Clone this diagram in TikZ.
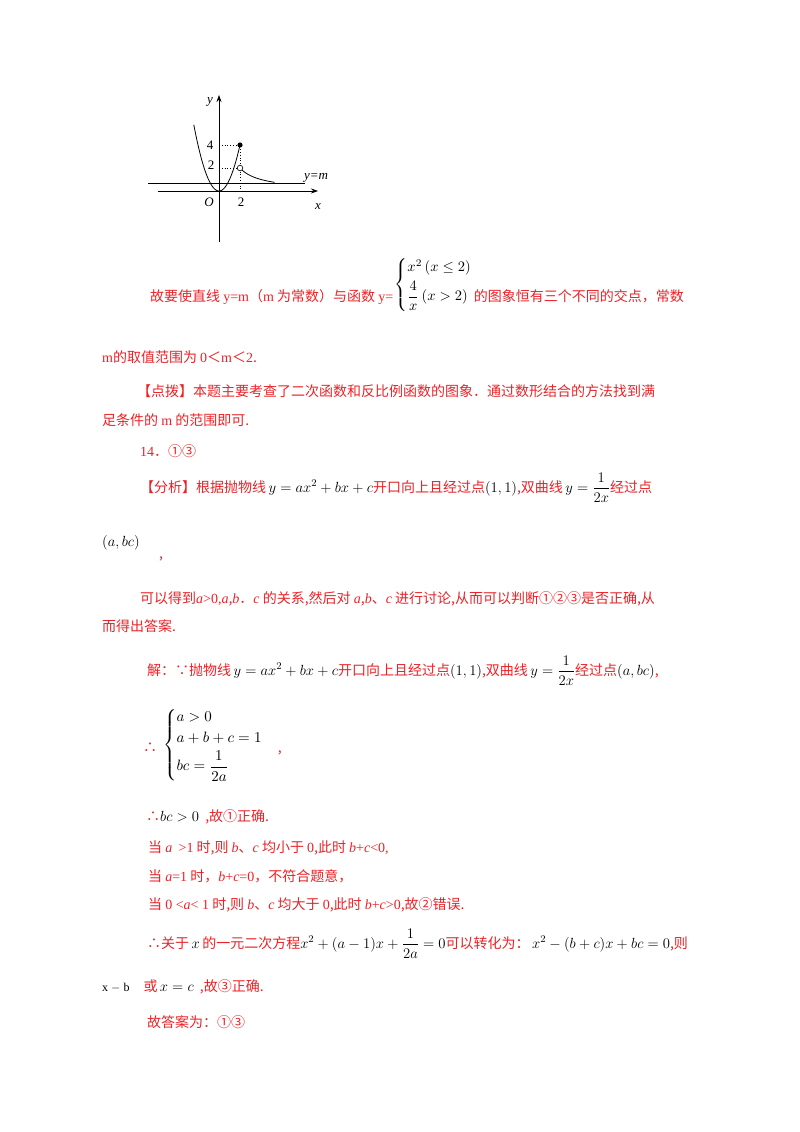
\RequirePackage{fix-cm}
\documentclass[tikz,border=0pt]{standalone}
\usepackage{amsmath}
\usepackage{graphicx}
\usepackage{fontspec}
\setmainfont{Liberation Serif}
\newfontfamily\cjk{Noto Sans CJK SC}
\newfontfamily\ser{Liberation Serif}
\newcommand{\ls}[1]{{\ser #1}}
\newcommand{\li}[1]{{\ser\itshape #1}}
\usetikzlibrary{arrows.meta}
\definecolor{rd}{RGB}{235,35,40}
\newcommand{\mth}[1]{{\color{black}\scalebox{1.05}{$#1$}}}
\begin{document}
\begin{tikzpicture}[x=1pt,y=-1pt,
  t/.style={anchor=base west,inner sep=0,text=rd,font=\cjk\fontsize{14}{17}\selectfont},
  lab/.style={inner sep=0,font=\fontsize{13}{15}\selectfont\itshape},
  num/.style={inner sep=0,font=\fontsize{13}{15}\selectfont},
  ax/.style={line width=0.7pt,-{Stealth[length=7pt,width=5pt]}},
  dot/.style={dotted,line width=0.8pt}]
\useasboundingbox[fill=white] (0,0) rectangle (800,1132);
% graph
\draw[ax] (219,242) -- (219,95);
\draw[ax] (158,191) -- (318,191);
\draw[line width=0.7pt] (148,183) -- (305,183);
\draw[dot] (219,145) -- (240,145) -- (240,191);
\draw[dot] (219,168) -- (240,168);
\draw[line width=0.8pt,domain=-2.4:2,samples=60] plot ({219+10.5*\x},{191-11.5*\x*\x});
\draw[line width=0.8pt,domain=2:5.3,samples=40] plot ({219+10.5*\x},{191-11.5*4/\x});
\fill (240,145) circle (2.6);
\draw[fill=white,line width=0.6pt] (240,168) circle (2.8);
\node[lab] (ly) at (210,102) {y};
\node[num] (l4) at (210,145) {4};
\node[num] (l2) at (211,165) {2};
\node[lab] (lo) at (209,202) {O};
\node[num] (l2x) at (241,202) {2};
\node[lab] (lx) at (318,207) {x};
\node[lab] (lm) at (316,178) {y=m};
% text
\node[t] (a1) at (150,301) {故要使直线 \ls{y=m}（\ls{m} 为常数）与函数 \ls{y=}};
\node[anchor=west,inner sep=0] (a2) at ([xshift=1pt]a1.east |- 0,285) {\scalebox{1.45}{$\left\{\begin{array}{@{}l@{}} x^2\,(x\le 2)\\[3pt] \dfrac{4}{x}\,(x>2)\end{array}\right.$}};
\node[t] (a3) at ([xshift=1pt]a2.east |- a1.base) {的图象恒有三个不同的交点，常数};
\node[t] (a4) at (102,362) {\ls{m}的取值范围为 \ls{0}＜\ls{m}＜\ls{2}.};
\node[t] (b1) at (137,396) {【点拨】本题主要考查了二次函数和反比例函数的图象．通过数形结合的方法找到满};
\node[t] (b2) at (102,425) {足条件的 \ls{m} 的范围即可.};
\node[t] (c0) at (140,456) {\ls{14}．①③};
\node[t] (c1) at (140,492) {【分析】根据抛物线\mth{\,y=ax^2+bx+c}开口向上且经过点\mth{(1,1)},双曲线\mth{\,y=\dfrac{1}{2x}}经过点};
\node[t] (c2) at (102,546) {\mth{(a,bc)}};
\node[t] (c3) at (159,558) {,};
\node[t] (d1) at (140,603) {可以得到\li{a}\ls{>0,}\li{a},\li{b}．\li{c} 的关系,然后对 \li{a},\li{b}、\li{c} 进行讨论,从而可以判断①②③是否正确,从};
\node[t] (d2) at (102,631) {而得出答案.};
\node[t] (e1) at (147,675) {解：∵抛物线\mth{\,y=ax^2+bx+c}开口向上且经过点\mth{(1,1)},双曲线\mth{\,y=\dfrac{1}{2x}}经过点\mth{(a,bc)},};
\node[t] (e2) at (143,752) {∴};
\node[anchor=west,inner sep=0] (e3) at (163,745) {\scalebox{1.5}{$\left\{\begin{array}{@{}l@{}} a>0\\[2pt] a+b+c=1\\[2pt] bc=\dfrac{1}{2a}\end{array}\right.$}};
\node[t] (e4) at ([xshift=14pt]e3.east |- e2.base) {,};
\node[t] (f1) at (146,821) {∴\mth{bc>0}\ \ ,故①正确.};
\node[t] (f2) at (148,852) {当 \li{a}\ \ \ls{>1} 时,则 \li{b}、\li{c} 均小于 \ls{0},此时 \li{b}\ls{+}\li{c}\ls{<0,}};
\node[t] (f3) at (148,881) {当 \li{a}\ls{=1} 时，\li{b}\ls{+}\li{c}\ls{=0}，不符合题意，};
\node[t] (f4) at (148,909) {当 \ls{0 <}\li{a}\ls{< 1} 时,则 \li{b}、\li{c} 均大于 \ls{0},此时 \li{b}\ls{+}\li{c}\ls{>0},故②错误.};
\node[t] (g1) at (147,948) {∴关于\mth{\,x\,}的一元二次方程\mth{x^2+(a-1)x+\dfrac{1}{2a}=0}可以转化为：\mth{\,x^2-(b+c)x+bc=0},则};
\node[t] (g2) at (102,991) {{\color{black}\ser\fontsize{12}{14}\selectfont x $-$ b}\quad 或\mth{\,x=c}\ \ ,故③正确.};
\node[t] (g3) at (147,1027) {故答案为：①③};
\end{tikzpicture}
\end{document}
